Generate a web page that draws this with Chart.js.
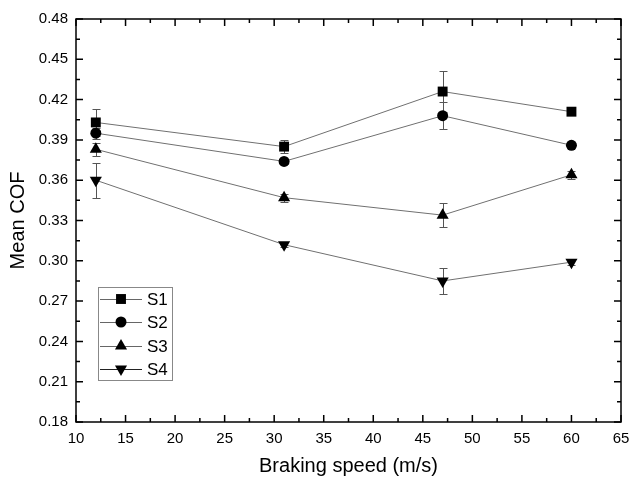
<!DOCTYPE html>
<html>
<head>
<meta charset="utf-8">
<script src="https://cdn.jsdelivr.net/npm/chart.js@4/dist/chart.umd.min.js"></script>
<style>
  html, body { margin: 0; padding: 0; background: #fff; }
</style>
</head>
<body>
<canvas id="cof" width="631" height="482"></canvas>
<script>
const speeds = [12, 31, 47, 60];
const seriesNames = ['S1', 'S2', 'S3', 'S4'];
const s1 = [0.403, 0.385, 0.426, 0.411];
const s2 = [0.395, 0.374, 0.408, 0.386];
const s3 = [0.383, 0.347, 0.334, 0.364];
const s4 = [0.360, 0.312, 0.285, 0.299];
const s1Err = [0.010, 0.005, 0.015, 0.002];
const s2Err = [0.004, 0.002, 0.010, 0.002];
const s3Err = [0.005, 0.003, 0.009, 0.003];
const s4Err = [0.013, 0.002, 0.010, 0.002];

const allValues = [s1, s2, s3, s4];
const allErrors = [s1Err, s2Err, s3Err, s4Err];
const markers = [
    { style: 'rect', radius: 7, rotation: 0 },
    { style: 'circle', radius: 5.5, rotation: 0 },
    { style: 'triangle', radius: 7, rotation: 0 },
    { style: 'triangle', radius: 7, rotation: 180 }
];

const FONT = '"Liberation Sans", Arial, sans-serif';

// small helper for legend symbols
function drawMarker(ctx, m, x, y) {
    ctx.save();
    ctx.fillStyle = '#000';
    ctx.beginPath();
    if (m.style === 'rect') {
        const s = Math.SQRT1_2 * m.radius;
        ctx.rect(x - s, y - s, 2 * s, 2 * s);
    } else if (m.style === 'circle') {
        ctx.arc(x, y, m.radius, 0, Math.PI * 2);
    } else {
        const r = m.radius;
        const dir = m.rotation === 180 ? -1 : 1;
        ctx.moveTo(x, y - dir * r);
        ctx.lineTo(x + r * Math.sin(Math.PI / 3), y + dir * r * 0.5);
        ctx.lineTo(x - r * Math.sin(Math.PI / 3), y + dir * r * 0.5);
        ctx.closePath();
    }
    ctx.fill();
    ctx.restore();
}

const errorBars = {
    id: 'errorBars',
    beforeDatasetsDraw(chart) {
        const { ctx, scales: { x, y } } = chart;
        ctx.save();
        ctx.strokeStyle = '#555';
        ctx.lineWidth = 1;
        allValues.forEach((vals, si) => {
            vals.forEach((v, i) => {
                const e = allErrors[si][i];
                const px = Math.round(x.getPixelForValue(speeds[i])) + 0.5;
                const top = Math.round(y.getPixelForValue(v + e)) + 0.5;
                const bot = Math.round(y.getPixelForValue(v - e)) + 0.5;
                ctx.beginPath();
                ctx.moveTo(px, top); ctx.lineTo(px, bot);
                ctx.moveTo(px - 4, top); ctx.lineTo(px + 4, top);
                ctx.moveTo(px - 4, bot); ctx.lineTo(px + 4, bot);
                ctx.stroke();
            });
        });
        ctx.restore();
    }
};

const frameAndTicks = {
    id: 'frameAndTicks',
    afterDraw(chart) {
        const { ctx, chartArea: a, scales: { x, y } } = chart;
        ctx.save();
        ctx.strokeStyle = '#000';
        ctx.lineWidth = 1.5;
        ctx.strokeRect(a.left, a.top, a.right - a.left, a.bottom - a.top);
        ctx.beginPath();
        for (let i = 0; i <= 22; i++) {
            const v = 10 + i * 2.5;
            const px = x.getPixelForValue(v);
            const len = i % 2 === 0 ? 7 : 4;
            ctx.moveTo(px, a.bottom); ctx.lineTo(px, a.bottom - len);
            ctx.moveTo(px, a.top); ctx.lineTo(px, a.top + len);
        }
        for (let i = 0; i <= 20; i++) {
            const v = 0.18 + i * 0.015;
            const py = y.getPixelForValue(v);
            const len = i % 2 === 0 ? 7 : 4;
            ctx.moveTo(a.left, py); ctx.lineTo(a.left + len, py);
            ctx.moveTo(a.right, py); ctx.lineTo(a.right - len, py);
        }
        ctx.stroke();

        // legend box inside the plot
        ctx.lineWidth = 1;
        ctx.strokeStyle = '#888';
        ctx.strokeRect(98.5, 287.5, 74, 93);
        const rows = [299, 322, 346, 369];
        ctx.font = '17px ' + FONT;
        ctx.textBaseline = 'middle';
        ctx.fillStyle = '#000';
        seriesNames.forEach((name, i) => {
            ctx.strokeStyle = i === 3 ? '#222' : '#666';
            ctx.beginPath();
            ctx.moveTo(100, rows[i] + 0.5); ctx.lineTo(142, rows[i] + 0.5);
            ctx.stroke();
            drawMarker(ctx, markers[i], 121, rows[i]);
            ctx.fillText(name, 147, rows[i] + 1);
        });
        ctx.restore();
    }
};

new Chart(document.getElementById('cof'), {
    type: 'line',
    data: {
        datasets: allValues.map((vals, si) => ({
            label: seriesNames[si],
            data: vals.map((v, i) => ({ x: speeds[i], y: v })),
            borderColor: '#707070',
            borderWidth: 1,
            backgroundColor: '#000',
            pointBackgroundColor: '#000',
            pointBorderColor: '#000',
            pointBorderWidth: 0,
            pointStyle: markers[si].style,
            pointRadius: markers[si].radius,
            pointRotation: markers[si].rotation,
            tension: 0
        }))
    },
    options: {
        responsive: false,
        animation: false,
        maintainAspectRatio: false,
        layout: { padding: { top: 19, right: 1, left: 0, bottom: 0 } },
        plugins: {
            legend: { display: false },
            tooltip: { enabled: false }
        },
        scales: {
            x: {
                type: 'linear',
                min: 10,
                max: 65,
                grid: { display: false, drawTicks: false },
                border: { display: false },
                ticks: {
                    stepSize: 5,
                    padding: 8,
                    color: '#000',
                    font: { family: FONT, size: 15 },
                    maxRotation: 0
                },
                title: {
                    display: true,
                    text: 'Braking speed (m/s)',
                    color: '#000',
                    font: { family: FONT, size: 20 },
                    padding: { top: 4, bottom: 4 }
                },
                afterFit(scale) {
                    scale.height = 60;
                    scale.paddingLeft = 0;
                    scale.paddingRight = 10;
                }
            },
            y: {
                min: 0.18,
                max: 0.48,
                grid: { display: false, drawTicks: false },
                border: { display: false },
                ticks: {
                    stepSize: 0.03,
                    padding: 8,
                    color: '#000',
                    font: { family: FONT, size: 15 },
                    callback: v => v.toFixed(2)
                },
                title: {
                    display: true,
                    text: 'Mean COF',
                    color: '#000',
                    font: { family: FONT, size: 20 },
                    padding: { top: 6, bottom: 4 }
                },
                afterFit(scale) { scale.width = 76; }
            }
        }
    },
    plugins: [errorBars, frameAndTicks]
});
</script>
</body>
</html>
